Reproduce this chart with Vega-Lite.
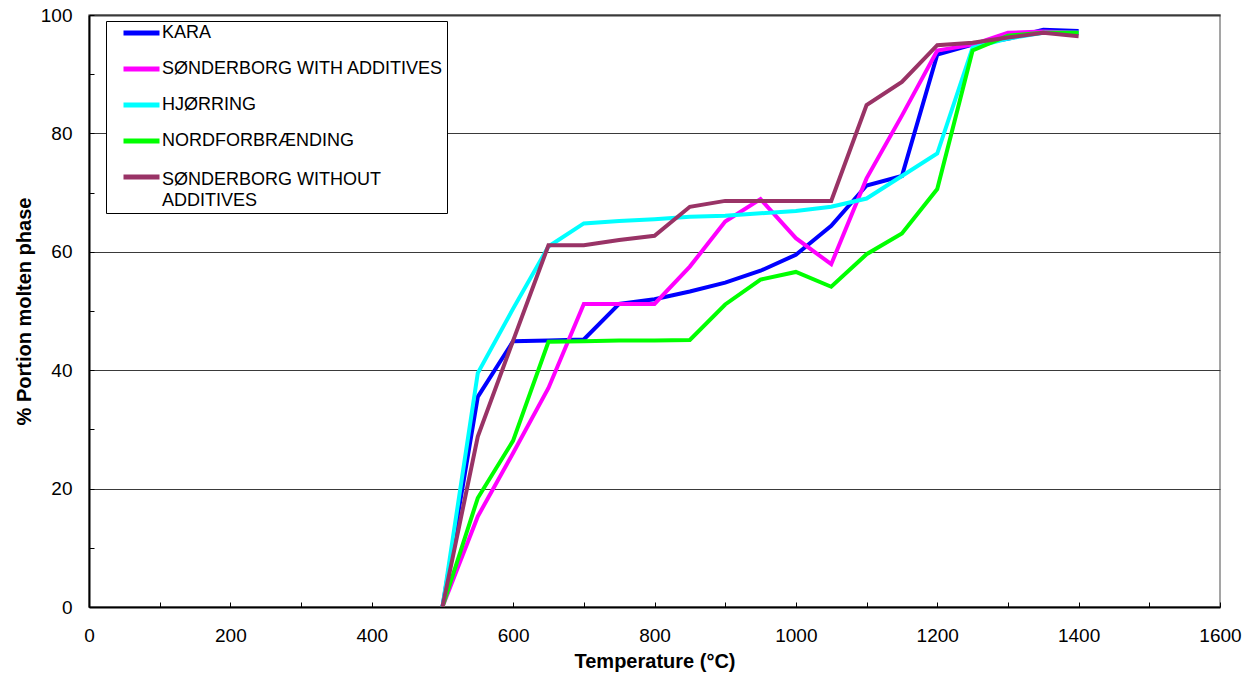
{
  "$schema": "https://vega.github.io/schema/vega-lite/v6.json",
  "width": 1131,
  "height": 592,
  "autosize": {"type": "none"},
  "padding": {"left": 89, "top": 15, "right": 30, "bottom": 74},
  "background": "white",
  "config": {
    "font": "Liberation Sans",
    "view": {"stroke": "#888888", "strokeWidth": 1.5}
  },
  "data": {
    "values": [
      {"t": 500, "KARA": 0, "SØNDERBORG WITH ADDITIVES": 0, "HJØRRING": 0, "NORDFORBRÆNDING": 0, "SØNDERBORG WITHOUT ADDITIVES": 0},
      {"t": 550, "KARA": 35.5, "SØNDERBORG WITH ADDITIVES": 15.3, "HJØRRING": 39.5, "NORDFORBRÆNDING": 18.4, "SØNDERBORG WITHOUT ADDITIVES": 28.8},
      {"t": 600, "KARA": 44.9, "SØNDERBORG WITH ADDITIVES": 26.0, "HJØRRING": 50.4, "NORDFORBRÆNDING": 28.1, "SØNDERBORG WITHOUT ADDITIVES": 45.0},
      {"t": 650, "KARA": 45.0, "SØNDERBORG WITH ADDITIVES": 37.0, "HJØRRING": 60.9, "NORDFORBRÆNDING": 44.8, "SØNDERBORG WITHOUT ADDITIVES": 61.1},
      {"t": 700, "KARA": 45.2, "SØNDERBORG WITH ADDITIVES": 51.2, "HJØRRING": 64.8, "NORDFORBRÆNDING": 44.9, "SØNDERBORG WITHOUT ADDITIVES": 61.1},
      {"t": 750, "KARA": 51.2, "SØNDERBORG WITH ADDITIVES": 51.2, "HJØRRING": 65.2, "NORDFORBRÆNDING": 45.0, "SØNDERBORG WITHOUT ADDITIVES": 62.0},
      {"t": 800, "KARA": 52.0, "SØNDERBORG WITH ADDITIVES": 51.2, "HJØRRING": 65.5, "NORDFORBRÆNDING": 45.0, "SØNDERBORG WITHOUT ADDITIVES": 62.7},
      {"t": 850, "KARA": 53.3, "SØNDERBORG WITH ADDITIVES": 57.5, "HJØRRING": 65.9, "NORDFORBRÆNDING": 45.1, "SØNDERBORG WITHOUT ADDITIVES": 67.6},
      {"t": 900, "KARA": 54.8, "SØNDERBORG WITH ADDITIVES": 65.1, "HJØRRING": 66.1, "NORDFORBRÆNDING": 51.1, "SØNDERBORG WITHOUT ADDITIVES": 68.6},
      {"t": 950, "KARA": 56.8, "SØNDERBORG WITH ADDITIVES": 68.9, "HJØRRING": 66.5, "NORDFORBRÆNDING": 55.3, "SØNDERBORG WITHOUT ADDITIVES": 68.6},
      {"t": 1000, "KARA": 59.5, "SØNDERBORG WITH ADDITIVES": 62.3, "HJØRRING": 66.9, "NORDFORBRÆNDING": 56.6, "SØNDERBORG WITHOUT ADDITIVES": 68.6},
      {"t": 1050, "KARA": 64.4, "SØNDERBORG WITH ADDITIVES": 57.9, "HJØRRING": 67.6, "NORDFORBRÆNDING": 54.1, "SØNDERBORG WITHOUT ADDITIVES": 68.6},
      {"t": 1100, "KARA": 71.2, "SØNDERBORG WITH ADDITIVES": 72.4, "HJØRRING": 69.0, "NORDFORBRÆNDING": 59.6, "SØNDERBORG WITHOUT ADDITIVES": 84.8},
      {"t": 1150, "KARA": 72.8, "SØNDERBORG WITH ADDITIVES": 83.0, "HJØRRING": 72.8, "NORDFORBRÆNDING": 63.1, "SØNDERBORG WITHOUT ADDITIVES": 88.7},
      {"t": 1200, "KARA": 93.3, "SØNDERBORG WITH ADDITIVES": 94.0, "HJØRRING": 76.6, "NORDFORBRÆNDING": 70.6, "SØNDERBORG WITHOUT ADDITIVES": 94.9},
      {"t": 1250, "KARA": 95.0, "SØNDERBORG WITH ADDITIVES": 95.0, "HJØRRING": 94.5, "NORDFORBRÆNDING": 94.0, "SØNDERBORG WITHOUT ADDITIVES": 95.3},
      {"t": 1300, "KARA": 96.0, "SØNDERBORG WITH ADDITIVES": 97.0, "HJØRRING": 96.0, "NORDFORBRÆNDING": 96.5, "SØNDERBORG WITHOUT ADDITIVES": 96.2},
      {"t": 1350, "KARA": 97.5, "SØNDERBORG WITH ADDITIVES": 97.2, "HJØRRING": 97.0, "NORDFORBRÆNDING": 97.0, "SØNDERBORG WITHOUT ADDITIVES": 97.0},
      {"t": 1400, "KARA": 97.3, "SØNDERBORG WITH ADDITIVES": 97.0, "HJØRRING": 97.0, "NORDFORBRÆNDING": 97.0, "SØNDERBORG WITHOUT ADDITIVES": 96.4}
    ]
  },
  "transform": [
    {"fold": ["KARA", "SØNDERBORG WITH ADDITIVES", "HJØRRING", "NORDFORBRÆNDING", "SØNDERBORG WITHOUT ADDITIVES"], "as": ["series", "value"]}
  ],
  "mark": {"type": "line", "strokeWidth": 4, "strokeJoin": "miter", "clip": true},
  "encoding": {
    "x": {
      "field": "t",
      "type": "quantitative",
      "scale": {"domain": [0, 1600], "nice": false, "zero": false},
      "axis": {
        "title": "Temperature (°C)",
        "titleFontSize": 20,
        "titleFontWeight": "bold",
        "titleColor": "black",
        "titlePadding": 6,
        "values": [0, 100, 200, 300, 400, 500, 600, 700, 800, 900, 1000, 1100, 1200, 1300, 1400, 1500, 1600],
        "labelExpr": "datum.value % 200 == 0 ? datum.label : ''",
        "format": "d",
        "labelFontSize": 19,
        "labelColor": "black",
        "labelPadding": 24,
        "labelFlush": false,
        "labelOverlap": false,
        "tickSize": -5,
        "tickColor": "black",
        "tickWidth": 1,
        "domainColor": "black",
        "domainWidth": 2,
        "grid": false
      }
    },
    "y": {
      "field": "value",
      "type": "quantitative",
      "scale": {"domain": [0, 100], "nice": false},
      "axis": {
        "title": "% Portion molten phase",
        "titleFontSize": 20,
        "titleFontWeight": "bold",
        "titleColor": "black",
        "titlePadding": 6,
        "values": [0, 10, 20, 30, 40, 50, 60, 70, 80, 90, 100],
        "labelExpr": "datum.value % 20 == 0 ? datum.label : ''",
        "labelFontSize": 19,
        "labelColor": "black",
        "labelPadding": 22,
        "labelFlush": false,
        "labelOverlap": false,
        "tickSize": -5,
        "tickColor": "black",
        "tickWidth": 1,
        "domainColor": "black",
        "domainWidth": 2,
        "grid": true,
        "gridColor": "#3a3a3a",
        "gridWidth": {"condition": {"test": "datum.value == 100", "value": 2}, "value": 1},
        "gridOpacity": {"condition": {"test": "datum.value % 20 == 0 && datum.value > 0", "value": 1}, "value": 0}
      }
    },
    "color": {
      "field": "series",
      "type": "nominal",
      "sort": null,
      "scale": {
        "domain": ["KARA", "SØNDERBORG WITH ADDITIVES", "HJØRRING", "NORDFORBRÆNDING", "SØNDERBORG WITHOUT ADDITIVES"],
        "range": ["#0000FF", "#FF00FF", "#00FFFF", "#00FF00", "#993366"]
      },
      "legend": {
        "title": null,
        "orient": "none",
        "legendX": 17,
        "legendY": 6,
        "direction": "vertical",
        "symbolType": "stroke",
        "symbolStrokeWidth": 5,
        "symbolSize": 1296,
        "symbolOffset": 12,
        "clipHeight": 18,
        "labelFontSize": 18,
        "labelColor": "black",
        "labelOffset": 0,
        "labelLimit": 400,
        "labelExpr": "datum.label == 'SØNDERBORG WITHOUT ADDITIVES' ? ['SØNDERBORG WITHOUT', 'ADDITIVES'] : datum.label",
        "rowPadding": 18,
        "padding": 3,
        "strokeColor": "black",
        "fillColor": "white",
        "offset": 0,
        "encode": {
          "legend": {
            "update": {
              "width": {"value": 356}
            }
          },
          "labels": {
            "update": {
              "lineHeight": {"value": 21},
              "dy": {"signal": "datum.value == 'SØNDERBORG WITHOUT ADDITIVES' ? 3 : 0"}
            }
          }
        }
      }
    }
  }
}
